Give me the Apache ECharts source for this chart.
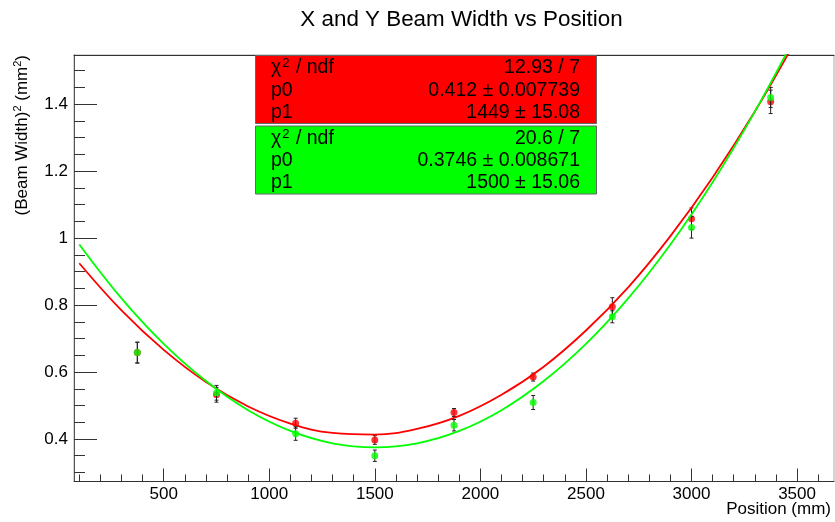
<!DOCTYPE html>
<html>
<head>
<meta charset="utf-8">
<script src="https://cdn.jsdelivr.net/npm/echarts@6/dist/echarts.min.js"></script>
<style>
html,body{margin:0;padding:0;background:#fff;}
#chart{width:835px;height:522px;}
</style>
</head>
<body>
<div id="chart"></div>
<script>
// ---- data ----
const positions = [375, 750, 1125, 1500, 1875, 2250, 2625, 3000, 3375];
const redWidth2 = [0.658, 0.532, 0.447, 0.397, 0.479, 0.585, 0.795, 1.058, 1.407];
const redErr    = [0.031, 0.022, 0.015, 0.013, 0.012, 0.012, 0.027, 0.032, 0.035];
const greenWidth2 = [0.658, 0.538, 0.416, 0.350, 0.441, 0.509, 0.765, 1.032, 1.420];
const greenErr    = [0.031, 0.022, 0.020, 0.017, 0.017, 0.021, 0.018, 0.032, 0.030];

// fit curves
const fitX      = [100, 300, 500, 700, 900, 1100, 1300, 1500, 1700, 1900, 2100, 2300, 2500, 2700, 2900, 3100, 3300, 3500];
const redFitY   = [0.925, 0.784, 0.666, 0.570, 0.497, 0.446, 0.418, 0.413, 0.430, 0.469, 0.532, 0.616, 0.724, 0.853, 1.006, 1.181, 1.378, 1.598];
const greenFitY = [0.981, 0.820, 0.684, 0.573, 0.486, 0.424, 0.387, 0.375, 0.387, 0.424, 0.486, 0.573, 0.684, 0.820, 0.981, 1.167, 1.378, 1.613];

// axes
const xMajorTicks = [500, 1000, 1500, 2000, 2500, 3000, 3500];
const xMinorTicks = [100, 200, 300, 400, 600, 700, 800, 900, 1100, 1200, 1300, 1400, 1600, 1700, 1800, 1900,
                     2100, 2200, 2300, 2400, 2600, 2700, 2800, 2900, 3100, 3200, 3300, 3400, 3600];
const yMajorTicks = [0.4, 0.6, 0.8, 1, 1.2, 1.4];
const yMinorTicks = [0.3, 0.35, 0.45, 0.5, 0.55, 0.65, 0.7, 0.75, 0.85, 0.9, 0.95, 1.05, 1.1, 1.15,
                     1.25, 1.3, 1.35, 1.45, 1.5];

// texts
const titleText = 'X and Y Beam Width vs Position';
const xName = 'Position (mm)';
const statNames = ['p0', 'p1'];
const redStatValues = ['12.93 / 7', '0.412 \u00b1 0.007739', '1449 \u00b1 15.08'];
const greenStatValues = ['20.6 / 7', '0.3746 \u00b1 0.008671', '1500 \u00b1 15.06'];

// ---- chart ----
const FONT = '"Liberation Sans", Arial, Helvetica, sans-serif';
const chart = echarts.init(document.getElementById('chart'), null, {renderer: 'canvas'});

function toPts(xs, ys) { return xs.map((x, i) => [x, ys[i]]); }
function toErr(xs, ys, es) { return xs.map((x, i) => [x, ys[i], es[i]]); }

function errRender(params, api) {
  const x = api.value(0), y = api.value(1), e = api.value(2);
  const lo = api.coord([x, y - e]);
  const hi = api.coord([x, y + e]);
  const c = 2;
  const st = {stroke: '#222', lineWidth: 1};
  return {
    type: 'group',
    children: [
      {type: 'line', shape: {x1: lo[0], y1: lo[1], x2: hi[0], y2: hi[1]}, style: st},
      {type: 'line', shape: {x1: lo[0] - c, y1: lo[1], x2: lo[0] + c, y2: lo[1]}, style: st},
      {type: 'line', shape: {x1: hi[0] - c, y1: hi[1], x2: hi[0] + c, y2: hi[1]}, style: st}
    ]
  };
}

const XMIN = 75, XMAX = 3675, YMIN = 0.273, YMAX = 1.547;

function statGraphics(top, fill, values) {
  const rowY = [top + 13, top + 35.5, top + 57.5];
  const els = [{
    type: 'rect', z: 100,
    shape: {x: 255.5, y: top + 0.5, width: 341, height: 68},
    style: {fill: fill, stroke: '#666', lineWidth: 1}
  }, {
    type: 'text', z: 101, x: 271, y: rowY[0],
    style: {
      text: '{a|\u03c7}{s|2}{a| / ndf}',
      rich: {a: {fontSize: 19.5, fontFamily: FONT, fill: '#000', lineHeight: 22},
             s: {fontSize: 13, fontFamily: FONT, fill: '#000', lineHeight: 22, verticalAlign: 'top', padding: [0, 1, 1, 1]}},
      align: 'left', verticalAlign: 'middle', textAlign: 'left', textVerticalAlign: 'middle'
    }
  }];
  statNames.forEach((n, i) => {
    els.push({type: 'text', z: 101, x: 271, y: rowY[i + 1],
      style: {text: n, font: '19.5px ' + FONT, fill: '#000', align: 'left', verticalAlign: 'middle', textAlign: 'left', textVerticalAlign: 'middle'}});
  });
  values.forEach((v, i) => {
    els.push({type: 'text', z: 101, x: 580, y: rowY[i],
      style: {text: v, font: '19.5px ' + FONT, fill: '#000', align: 'right', verticalAlign: 'middle', textAlign: 'right', textVerticalAlign: 'middle'}});
  });
  return els;
}

const option = {
  backgroundColor: '#fff',
  animation: false,
  grid: {left: 74, right: 1, top: 55, bottom: 40.5, containLabel: false, outerBoundsMode: 'none',
         show: true, borderColor: '#aaa', borderWidth: 1, backgroundColor: 'transparent'},
  xAxis: [{
    type: 'value', min: XMIN, max: XMAX, position: 'bottom',
    axisLine: {show: true, lineStyle: {color: '#333', width: 1}},
    axisTick: {show: true, inside: true, length: 13, customValues: xMajorTicks, lineStyle: {color: '#333'}},
    axisLabel: {show: true, customValues: xMajorTicks, margin: 4, fontSize: 17, fontFamily: FONT, color: '#000',
                formatter: v => String(v)},
    splitLine: {show: false}
  }, {
    type: 'value', min: XMIN, max: XMAX, position: 'bottom',
    axisLine: {show: false},
    axisTick: {show: true, inside: true, length: 7, customValues: xMinorTicks, lineStyle: {color: '#333'}},
    axisLabel: {show: false},
    splitLine: {show: false}
  }, {
    type: 'value', min: XMIN, max: XMAX, position: 'top',
    axisLine: {show: true, lineStyle: {color: '#333', width: 1}},
    axisTick: {show: false}, axisLabel: {show: false}, splitLine: {show: false}
  }],
  yAxis: [{
    type: 'value', min: YMIN, max: YMAX, position: 'left',
    axisLine: {show: true, lineStyle: {color: '#555', width: 1}},
    axisTick: {show: true, inside: true, length: 23, customValues: yMajorTicks, lineStyle: {color: '#333'}},
    axisLabel: {show: true, customValues: yMajorTicks, margin: 6, fontSize: 17, fontFamily: FONT, color: '#000',
                formatter: v => String(v)},
    splitLine: {show: false}
  }, {
    type: 'value', min: YMIN, max: YMAX, position: 'left',
    axisLine: {show: false},
    axisTick: {show: true, inside: true, length: 11, customValues: yMinorTicks, lineStyle: {color: '#333'}},
    axisLabel: {show: false},
    splitLine: {show: false}
  }],
  graphic: [
    {type: 'text', x: 461.5, y: 20,
     style: {text: titleText, font: '22.4px ' + FONT, fill: '#000', align: 'center', verticalAlign: 'middle', textAlign: 'center', textVerticalAlign: 'middle'}},
    {type: 'text', x: 831, y: 509,
     style: {text: xName, font: '17px ' + FONT, fill: '#000', align: 'right', verticalAlign: 'middle', textAlign: 'right', textVerticalAlign: 'middle'}},
    {type: 'text', x: 22, y: 55, rotation: Math.PI / 2,
     style: {
       text: '{a|(Beam Width)}{s|2}{a| (mm}{s|2}{a|)}',
       rich: {a: {fontSize: 17, fontFamily: FONT, fill: '#000', lineHeight: 20},
              s: {fontSize: 11, fontFamily: FONT, fill: '#000', lineHeight: 20, verticalAlign: 'top', padding: [0, 0, 6, 0]}},
       align: 'right', verticalAlign: 'middle', textAlign: 'right', textVerticalAlign: 'middle'
     }}
  ].concat(statGraphics(55, '#ff0000', redStatValues))
   .concat(statGraphics(125.5, '#00ff00', greenStatValues)),
  series: [
    {type: 'custom', name: 'redErr', renderItem: errRender, data: toErr(positions, redWidth2, redErr), z: 2, clip: true},
    {type: 'scatter', name: 'red', data: toPts(positions, redWidth2), symbol: 'circle', symbolSize: 7,
     itemStyle: {color: '#ff0000'}, z: 3},
    {type: 'line', name: 'redFit', data: toPts(fitX, redFitY), smooth: 0.4, showSymbol: false, symbol: 'none',
     lineStyle: {color: '#ff0000', width: 1.8}, z: 4, clip: true},
    {type: 'custom', name: 'greenErr', renderItem: errRender, data: toErr(positions, greenWidth2, greenErr), z: 5, clip: true},
    {type: 'scatter', name: 'green', data: toPts(positions, greenWidth2), symbol: 'circle', symbolSize: 7,
     itemStyle: {color: '#00ff00'}, z: 6},
    {type: 'line', name: 'greenFit', data: toPts(fitX, greenFitY), smooth: 0.4, showSymbol: false, symbol: 'none',
     lineStyle: {color: '#00ff00', width: 1.8}, z: 7, clip: true}
  ]
};
chart.setOption(option);
</script>
</body>
</html>
